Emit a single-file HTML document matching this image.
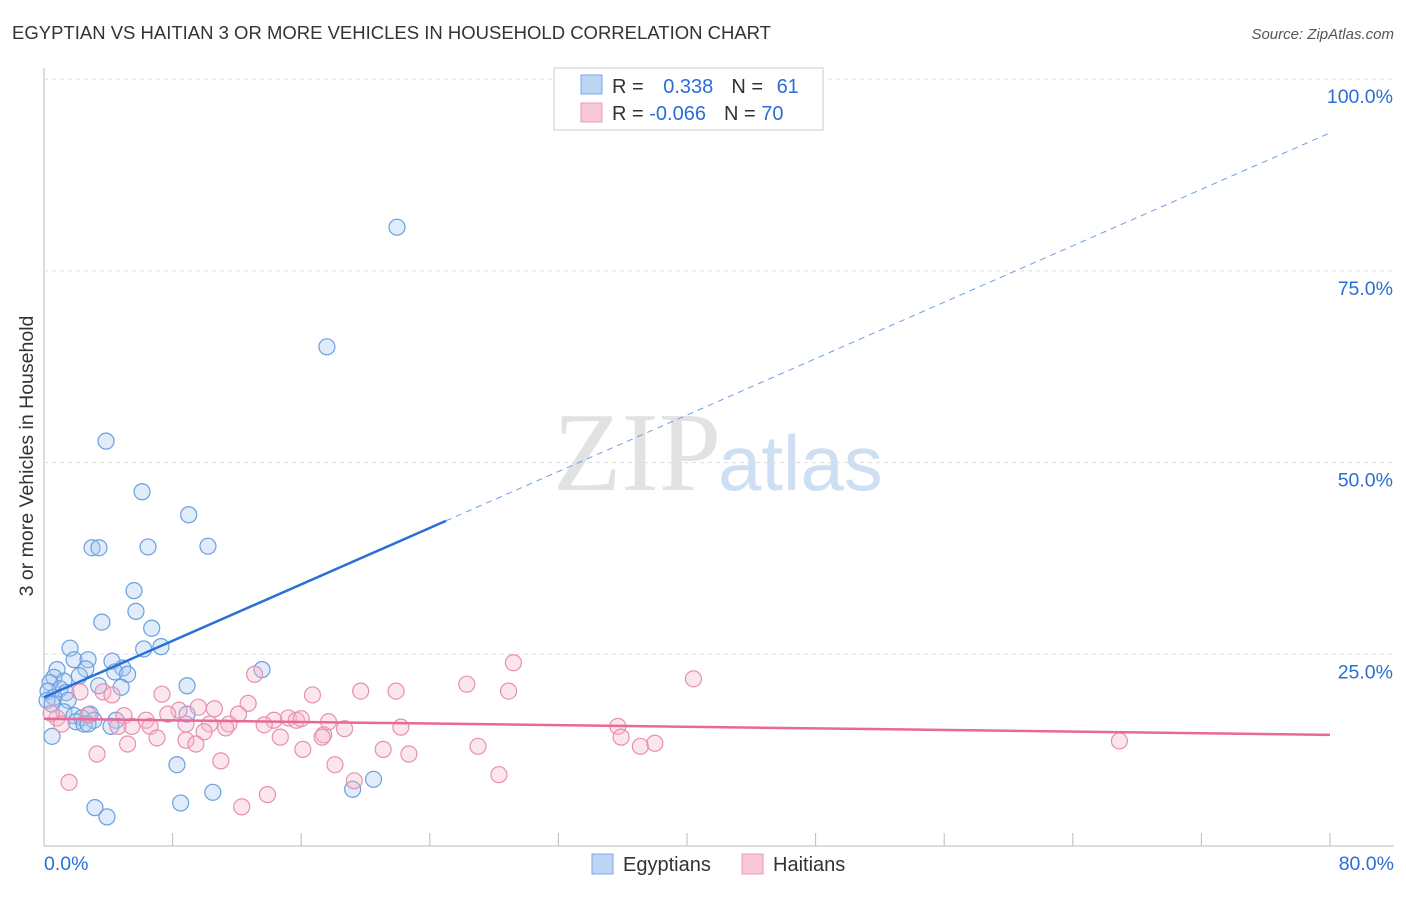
<!DOCTYPE html>
<html><head><meta charset="utf-8"><style>
body{margin:0;background:#fff;font-family:"Liberation Sans",sans-serif}
</style></head><body>
<svg id="c" width="1406" height="892" xmlns="http://www.w3.org/2000/svg">
<text x="12" y="39" font-size="18.5" fill="#333">EGYPTIAN VS HAITIAN 3 OR MORE VEHICLES IN HOUSEHOLD CORRELATION CHART</text>
<text x="1394" y="39" font-size="15" fill="#555" text-anchor="end" font-style="italic">Source: ZipAtlas.com</text>
<text x="33" y="456" font-size="19.5" fill="#333" transform="rotate(-90 33 456)" text-anchor="middle">3 or more Vehicles in Household</text>
<g><text x="553" y="490" font-size="112" font-family="Liberation Serif,serif" fill="#e2e2e2">ZIP</text><text x="718" y="490" font-size="78" fill="#cfdff3">atlas</text></g>
<g id="grid"></g><g id="pts"></g><g id="lines"></g>
<g>
<rect x="554" y="68" width="269" height="62" fill="#fff" stroke="#ccc"/>
<rect x="581" y="75" width="21" height="19" fill="#bcd5f5" stroke="#7aa8e8"/>
<rect x="581" y="103" width="21" height="19" fill="#f8c8d8" stroke="#ec9ab8"/>
<text x="612" y="93" font-size="20" fill="#333">R = <tspan fill="#2a6fd6" dx="14">0.338</tspan><tspan dx="18" fill="#333">N = </tspan><tspan dx="8" fill="#2a6fd6">61</tspan></text>
<text x="612" y="120" font-size="20" fill="#333">R = <tspan fill="#2a6fd6">-0.066</tspan><tspan dx="18" fill="#333">N = </tspan><tspan fill="#2a6fd6">70</tspan></text>
</g>
<g>
<rect x="592" y="854" width="21" height="20" fill="#bcd5f5" stroke="#7aa8e8"/>
<text x="623" y="871" font-size="20" fill="#333">Egyptians</text>
<rect x="742" y="854" width="21" height="20" fill="#f8c8d8" stroke="#ec9ab8"/>
<text x="773" y="871" font-size="20" fill="#333">Haitians</text>
</g>
<text x="44" y="870" font-size="19.5" fill="#2a6fd6">0.0%</text>
<text x="1394" y="870" font-size="19.5" fill="#2a6fd6" text-anchor="end">80.0%</text>
</svg>
<script>
const yTicks=[25,50,75,100];
const xTicks=[0,8,16,24,32,40,48,56,64,72,80];
const blueX=[21.96,17.6,3.86,6.1,9.0,6.47,2.99,3.42,10.2,5.6,5.72,3.6,6.7,1.62,7.28,6.2,1.87,2.74,4.23,13.56,0.81,2.6,4.9,4.4,5.2,2.2,0.62,1.24,0.37,8.9,3.4,4.8,1.0,0.25,1.37,0.62,0.19,1.5,0.5,1.24,2.86,1.87,2.36,1.99,3.1,4.48,2.49,2.74,4.17,8.9,0.5,8.27,20.5,19.2,10.5,8.5,3.17,3.92];
const blueY=[80.7,65.1,52.8,46.2,43.2,39.0,38.9,38.9,39.1,33.3,30.6,29.2,28.4,25.8,26.0,25.7,24.3,24.3,24.1,23.0,23.0,23.1,23.2,22.7,22.4,22.2,22.0,21.5,21.3,20.9,20.9,20.7,20.5,20.2,20.0,19.4,19.0,19.0,18.5,17.5,17.2,17.0,16.7,16.2,16.4,16.4,15.9,15.9,15.6,17.2,14.3,10.6,8.7,7.4,7.0,5.6,5.0,3.8];
const pinkX=[29.2,40.4,26.3,28.9,21.9,19.7,16.7,7.34,2.24,3.67,4.23,13.1,12.7,10.6,9.6,8.4,7.7,12.1,15.2,15.7,14.3,16.0,17.7,4.98,6.35,2.74,0.81,0.44,8.83,10.3,11.5,13.7,5.47,6.6,4.6,1.1,18.7,22.2,35.7,9.96,11.3,17.4,14.7,17.3,7.03,8.83,9.45,5.2,21.1,16.1,22.7,27.0,35.9,37.1,38.0,66.9,3.3,11.0,18.1,28.3,19.3,1.56,13.9,12.3];
const pinkY=[23.9,21.8,21.1,20.2,20.2,20.2,19.7,19.8,20.1,20.1,19.7,22.4,18.6,17.9,18.1,17.7,17.2,17.2,16.7,16.4,16.4,16.6,16.2,17.0,16.4,17.1,16.7,17.3,15.9,15.9,15.9,15.8,15.6,15.6,15.6,15.9,15.3,15.5,15.6,14.9,15.4,14.5,14.2,14.2,14.1,13.8,13.3,13.3,12.6,12.6,12.0,13.0,14.2,13.0,13.4,13.7,12.0,11.1,10.6,9.3,8.5,8.3,6.7,5.1];
const blueLine=[19.4,93.0];
const pinkLine=[16.6,14.5];
const sx=v=>44+v/80*1286, sy=v=>846-v*7.668;
const NS="http://www.w3.org/2000/svg";
function mk(t,a,p){const e=document.createElementNS(NS,t);for(const k in a)e.setAttribute(k,a[k]);p.appendChild(e);return e;}
const g=document.getElementById('grid'),svg=document.getElementById('c');
mk('line',{x1:44,y1:68,x2:44,y2:846,stroke:'#bbb'},g);
mk('line',{x1:44,y1:846,x2:1394,y2:846,stroke:'#bbb'},g);
yTicks.forEach(t=>{
const l=mk('line',{x1:44,y1:sy(t),x2:1394,y2:sy(t),stroke:'#ddd','stroke-dasharray':'4 4'},g);


const tx=mk('text',{x:1393,y:sy(t)+24,'font-size':19.5,fill:'#2a6fd6','text-anchor':'end'},svg);
tx.textContent=t.toFixed(1)+'%';


});
xTicks.forEach(t=>{
const l=mk('line',{x1:sx(t),y1:833,x2:sx(t),y2:846,stroke:'#bbb'},g);


});
const p=document.getElementById('pts');
function dots(X,Y,f,s,n){X.forEach((x,i)=>{const c=mk('circle',{cx:sx(x),cy:sy(Y[i]),r:8,fill:f,'fill-opacity':0.35,stroke:s,'stroke-width':1.2},p);

});}
dots(blueX,blueY,'#a8c8f2','#6a9fe0','egyptian-point');
dots(pinkX,pinkY,'#f6b6cb','#e88fb0','haitian-point');
const L=document.getElementById('lines');
const xs=25;const yb=blueLine[0]+(blueLine[1]-blueLine[0])*xs/80;
let e=mk('line',{x1:sx(0),y1:sy(blueLine[0]),x2:sx(xs),y2:sy(yb),stroke:'#2a6fd6','stroke-width':2.5},L);


e=mk('line',{x1:sx(xs),y1:sy(yb),x2:sx(80),y2:sy(blueLine[1]),stroke:'#6a9fe0','stroke-width':1,'stroke-dasharray':'6 5'},L);


e=mk('line',{x1:sx(0),y1:sy(pinkLine[0]),x2:sx(80),y2:sy(pinkLine[1]),stroke:'#e8689a','stroke-width':2.5},L);


</script>
</body></html>
